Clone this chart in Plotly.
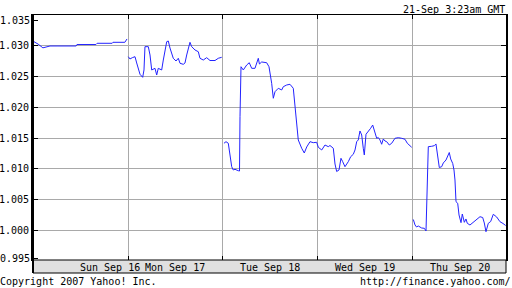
import plotly.graph_objects as go

# ---- data: hours since start of chart, exchange rate ----
sun_hours = [0.25, 1.3, 2.5, 3.5, 4.3, 6.3, 10.9, 11.1, 15.9, 16.2, 20.0, 20.2, 23.2, 23.75]
sun_rate = [1.0307, 1.0303, 1.0297, 1.0298, 1.0300, 1.0300, 1.0300, 1.03024, 1.03024, 1.03044,
            1.03044, 1.0306, 1.0306, 1.03114]

mon_hours = [24.08, 24.5, 25.09, 25.77, 26.2, 26.6, 27.03, 27.71, 28.04, 28.29, 29.13, 29.56, 29.99,
             30.82, 31.25, 31.65, 32.51, 32.92, 33.78, 34.18, 34.61, 35.44, 36.13, 36.71, 37.14,
             37.97, 38.4, 38.83, 39.66, 40.09, 40.93, 41.76, 42.19, 43.02, 43.88, 44.72, 45.98,
             46.81, 47.67]
mon_rate = [1.02826, 1.02789, 1.0281, 1.02826, 1.02724, 1.02637, 1.0254, 1.02491, 1.0261, 1.02989,
            1.02989, 1.02854, 1.0261, 1.02637, 1.02528, 1.02637, 1.0261, 1.02772, 1.0307, 1.03081,
            1.02967, 1.0280, 1.02756, 1.0280, 1.02719, 1.02702, 1.02724, 1.02854, 1.0306, 1.02989,
            1.02935, 1.02907, 1.0280, 1.02772, 1.0281, 1.02764, 1.02764, 1.0280, 1.02816]

tue_wed_hours = [48.25, 48.76, 49.34, 49.77, 50.2, 50.6, 51.03, 51.87, 52.17, 52.3, 52.55, 53.13,
                 53.99, 54.64, 55.25, 56.08, 56.92, 57.2, 57.78, 59.04, 59.62, 60.3, 60.71, 61.14,
                 61.97, 62.83, 63.24, 64.1, 64.93, 65.76, 66.19, 66.62, 67.02, 67.88, 68.54, 69.15,
                 69.98, 70.81, 71.67,
                 72.08, 72.94, 73.77, 74.6, 75.03, 75.87, 76.3, 76.72, 77.31, 77.81, 78.24, 78.82,
                 79.66, 80.26, 80.92, 81.35, 81.78, 82.18, 82.61, 83.04, 83.44, 83.7, 84.13, 84.71,
                 85.31, 85.82, 86.22, 86.83, 87.23, 87.66, 88.09, 88.5, 88.93, 89.36, 90.02, 90.62,
                 91.45, 92.29, 93.15, 93.98, 94.57, 95.24, 95.67]
tue_wed_rate = [1.01418, 1.01444, 1.01418, 1.01228, 1.01037, 1.00984, 1.00995, 1.00972, 1.00967,
                1.0185, 1.02663, 1.0261, 1.02691, 1.02728, 1.02637, 1.02637, 1.0280, 1.02707,
                1.0274, 1.02728, 1.02663, 1.02393, 1.0215, 1.02257, 1.02312, 1.02285, 1.02338,
                1.02366, 1.02377, 1.02312, 1.02013, 1.01634, 1.01472, 1.01337, 1.0126, 1.01358,
                1.01444, 1.01428, 1.01434,
                1.01353, 1.01309, 1.0139, 1.01363, 1.01382, 1.01337, 1.01081, 1.00959, 1.00984,
                1.01174, 1.01119, 1.01037, 1.01119, 1.012, 1.01239, 1.01309, 1.01444, 1.01472,
                1.01618, 1.01553, 1.01337, 1.01228, 1.01565, 1.01607, 1.01662, 1.01715, 1.01618,
                1.01499, 1.01512, 1.01472, 1.01402, 1.01488, 1.01455, 1.01444, 1.0139, 1.01418,
                1.01499, 1.01509, 1.01499, 1.01483, 1.01418, 1.01379, 1.01353]

thu_hours = [96.08, 96.51, 96.89, 97.34, 98.2, 98.86, 99.29, 99.47, 99.72, 99.87, 100.73, 101.38,
             101.81, 101.99, 102.24, 102.65, 103.25, 103.66, 104.34, 104.67, 105.17, 105.53,
             106.04, 106.36, 106.61, 106.87, 107.3, 107.63, 108.13, 108.46, 108.97, 109.39,
             109.72, 110.4, 111.24, 112.09, 112.93, 113.61, 114.02, 114.44, 115.03, 115.63,
             116.29, 117.15, 117.98, 118.74, 119.42]
thu_rate = [1.00179, 1.0009, 1.00057, 1.00073, 1.0004, 1.00036, 0.99992, 1.00524, 1.01011, 1.01363,
            1.01369, 1.01379, 1.01407, 1.01337, 1.01174, 1.01024, 1.01037, 1.01098, 1.01146, 1.012,
            1.01268, 1.01163, 1.01089, 1.00984, 1.00821, 1.00468, 1.00442, 1.00252, 1.00127,
            1.00268, 1.00133, 1.00187, 1.00117, 1.00089, 1.00133, 1.00187, 1.00224, 1.00211,
            1.00122, 0.9998, 1.00117, 1.00146, 1.00263, 1.00219, 1.00143, 1.00114, 1.00081]

day_labels = ["Sun Sep 16", "Mon Sep 17", "Tue Sep 18", "Wed Sep 19", "Thu Sep 20"]
day_label_hours = [19.5, 36, 60, 84, 108]
day_boundaries = [24, 48, 72, 96]
y_tick_vals = [1.000, 1.005, 1.010, 1.015, 1.020, 1.025, 1.030]
y_tick_text = ["1.000", "1.005", "1.010", "1.015", "1.020", "1.025", "1.030"]
y_end_labels = ["1.035", "0.995"]

# ---- build ----
xs, ys = [], []
for hx, hy in [(sun_hours, sun_rate), (mon_hours, mon_rate),
               (tue_wed_hours, tue_wed_rate), (thu_hours, thu_rate)]:
    xs += hx + [None]
    ys += hy + [None]

FONT = "DejaVu Sans Mono"
fig = go.Figure()
fig.add_trace(go.Scatter(x=xs, y=ys, mode="lines", connectgaps=False,
                         line=dict(color="#2323ff", width=1), hoverinfo="skip"))

PH = 245.0  # plot height in px
def py(px_from_top):
    return (260 - px_from_top) / PH

fig.update_layout(
    width=512, height=288, margin=dict(l=33, r=6, t=15, b=28, autoexpand=False),
    paper_bgcolor="white", plot_bgcolor="white", showlegend=False,
    font=dict(family=FONT, size=10, color="black"),
    xaxis=dict(range=[0, 119.5], tickvals=day_boundaries, showticklabels=False,
               ticks="inside", ticklen=4, tickcolor="black", showgrid=True,
               gridcolor="#a9a9a9", gridwidth=1, showline=True, linecolor="black",
               linewidth=1, mirror="allticks", zeroline=False, fixedrange=True,
               automargin=False),
    yaxis=dict(range=[0.99520, 1.03504], tickvals=y_tick_vals, ticktext=y_tick_text,
               ticks="inside", ticklen=5, tickcolor="black", showgrid=True,
               gridcolor="#a9a9a9", gridwidth=1, showline=True, linecolor="black",
               linewidth=2, mirror="allticks", zeroline=False, fixedrange=True,
               automargin=False,
               tickfont=dict(family=FONT, size=10, color="black")),
)

# bottom band with day labels
fig.add_shape(type="rect", xref="paper", yref="paper", x0=0, x1=1, y0=py(273), y1=0,
              fillcolor="#e0e0e0", line=dict(color="black", width=1), layer="above")
fig.add_shape(type="line", xref="paper", yref="paper", x0=0, x1=0, y0=py(273), y1=1,
              line=dict(color="black", width=2), layer="above")
for lab, hx in zip(day_labels, day_label_hours):
    fig.add_annotation(x=hx, xref="x", y=py(267), yref="paper", text=lab, showarrow=False,
                       xanchor="center", yanchor="middle",
                       font=dict(family=FONT, size=10, color="black"))

# clamped end labels of y axis
for lab, ypx in zip(y_end_labels, [20.5, 258.5]):
    fig.add_annotation(x=0, xref="paper", y=py(ypx), yref="paper", text=lab, showarrow=False,
                       xanchor="right", yanchor="middle", xshift=-1,
                       font=dict(family=FONT, size=10, color="black"))
    fig.add_shape(type="line", xref="paper", yref="paper", x0=0, x1=5 / 473,
                  y0=py(ypx), y1=py(ypx), line=dict(color="black", width=1))

fig.add_annotation(x=1, xref="paper", y=py(9.5), yref="paper", text="21-Sep 3:23am GMT",
                   showarrow=False, xanchor="right", yanchor="middle", xshift=1,
                   font=dict(family=FONT, size=10, color="black"))
fig.add_annotation(x=-33 / 473, xref="paper", y=py(281.5), yref="paper",
                   text="Copyright 2007 Yahoo! Inc.", showarrow=False, xanchor="left",
                   yanchor="middle", xshift=-2, font=dict(family=FONT, size=10, color="black"))
fig.add_annotation(x=(512 - 33) / 473, xref="paper", y=py(281.5), yref="paper",
                   text="http://finance.yahoo.com/", showarrow=False, xanchor="right",
                   yanchor="middle", xshift=1, font=dict(family=FONT, size=10, color="black"))

fig.write_html("out.html")
